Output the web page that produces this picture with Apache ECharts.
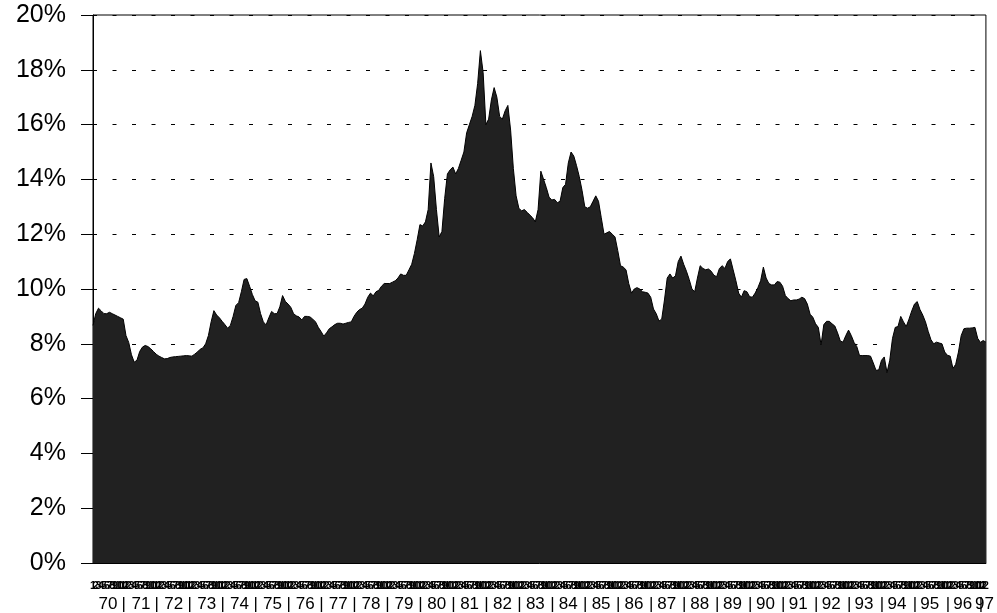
<!DOCTYPE html>
<html><head><meta charset="utf-8">
<script src="https://cdn.jsdelivr.net/npm/echarts@6/dist/echarts.min.js"></script>
<style>html,body{margin:0;padding:0;background:#fff}#c{width:997px;height:613px}</style>
</head><body><div id="c"></div>
<script>
const yearLabels = ['70','71','72','73','74','75','76','77','78','79','80','81','82','83','84','85','86','87','88','89','90','91','92','93','94','95','96','97'];
const monthLabels = ['1','2','3','4','5','6','7','8','9','10','11','12'];
const lastYearMonths = 2;
const yTickLabels = ['0%','2%','4%','6%','8%','10%','12%','14%','16%','18%','20%'];

const rates1970s = [
 8.67, 9.1, 9.3, 9.2, 9.1, 9.1, 9.15, 9.1, 9.05, 9.0, 8.95, 8.9,
 8.3, 8.05, 7.6, 7.33, 7.4, 7.72, 7.88, 7.94, 7.9, 7.82, 7.72, 7.62,
 7.55, 7.5, 7.45, 7.46, 7.5, 7.52, 7.53, 7.54, 7.55, 7.56, 7.57, 7.56,
 7.55, 7.62, 7.7, 7.8, 7.85, 8.0, 8.3, 8.8, 9.21, 9.05, 8.95, 8.82,
 8.7, 8.57, 8.67, 9.0, 9.4, 9.5, 9.9, 10.35, 10.38, 10.1, 9.8, 9.57,
 9.52, 9.1, 8.8, 8.69, 8.95, 9.18, 9.1, 9.1, 9.35, 9.76, 9.55, 9.45,
 9.33, 9.1, 9.02, 8.98, 8.87, 9.0, 9.0, 8.98, 8.9, 8.8, 8.6, 8.45,
 8.28, 8.4, 8.55, 8.62, 8.7, 8.75, 8.75, 8.72, 8.75, 8.78, 8.8, 9.0,
 9.15, 9.25, 9.3, 9.45, 9.7, 9.85, 9.75, 9.9, 9.95, 10.1, 10.2, 10.2,
 10.2, 10.25, 10.3, 10.4, 10.55, 10.5, 10.5, 10.7, 10.9, 11.3, 11.8, 12.35
];
const rates1980s = [
 12.3, 12.45, 12.9, 14.6, 14.1, 12.9, 11.9, 12.1, 13.3, 14.2, 14.35, 14.45,
 14.2, 14.4, 14.7, 15.0, 15.7, 16.0, 16.3, 16.7, 17.5, 18.7, 17.9, 16.0,
 16.2, 16.9, 17.35, 17.0, 16.3, 16.2, 16.5, 16.7, 15.8, 14.4, 13.4, 12.95,
 12.85, 12.9, 12.8, 12.7, 12.6, 12.45, 12.9, 14.3, 14.0, 13.7, 13.35, 13.25,
 13.27, 13.15, 13.2, 13.7, 13.82, 14.6, 15.0, 14.85, 14.5, 14.1, 13.6, 13.0,
 12.95, 13.0, 13.2, 13.4, 13.2, 12.6, 12.0, 12.05, 12.1, 12.0, 11.9, 11.4,
 10.85, 10.8, 10.7, 10.2, 9.85, 10.0, 10.05, 10.0, 9.9, 9.88, 9.85, 9.7,
 9.27, 9.1, 8.83, 8.9, 9.6, 10.4, 10.55, 10.4, 10.48, 11.0, 11.2, 10.9,
 10.65, 10.35, 10.0, 9.9, 10.4, 10.85, 10.75, 10.7, 10.73, 10.65, 10.5, 10.45,
 10.75, 10.85, 10.75, 11.0, 11.1, 10.7, 10.3, 9.85, 9.7, 9.94, 9.9, 9.72
];
const rates1990s = [
 9.7, 9.85, 10.05, 10.3, 10.8, 10.4, 10.2, 10.15, 10.15, 10.27, 10.25, 10.1,
 9.76, 9.65, 9.57, 9.6, 9.6, 9.63, 9.7, 9.65, 9.45, 9.08, 8.97, 8.73,
 8.6, 7.96, 8.7, 8.82, 8.82, 8.73, 8.65, 8.4, 8.1, 8.06, 8.3, 8.5,
 8.3, 8.05, 7.9, 7.57, 7.57, 7.57, 7.57, 7.55, 7.3, 7.03, 7.05, 7.4,
 7.52, 6.95, 7.4, 8.2, 8.6, 8.63, 9.0, 8.8, 8.63, 8.9, 9.2, 9.45,
 9.54, 9.25, 9.05, 8.8, 8.45, 8.15, 8.0, 8.06, 8.03, 8.0, 7.7, 7.58,
 7.55, 7.1, 7.25, 7.7, 8.3, 8.55, 8.57, 8.57, 8.58, 8.6, 8.2, 8.05,
 8.12, 8.06
];

const categories = [];
yearLabels.forEach((y, yi) => {
  const n = yi === yearLabels.length - 1 ? lastYearMonths : 12;
  for (let m = 0; m < n; m++) categories.push(y + '-' + monthLabels[m]);
});
const rates = rates1970s.concat(rates1980s, rates1990s);

const font = '"Liberation Sans", Arial, sans-serif';
const chart = echarts.init(document.getElementById('c'), null, {renderer: 'canvas'});
chart.setOption({
  animation: false,
  grid: {left: 93, right: 10, top: 15, bottom: 48, show: true, borderColor: '#000', borderWidth: 1, backgroundColor: 'transparent'},
  xAxis: [
    {
      type: 'category', data: categories, boundaryGap: false,
      axisLine: {lineStyle: {color: '#000', width: 1}},
      axisTick: {show: false},
      axisLabel: {interval: 0, formatter: v => v.split('-')[1], fontSize: 11, fontWeight: 'bold', color: '#000', margin: 17, fontFamily: font},
      splitLine: {show: false}
    },
    {
      type: 'category', data: categories, boundaryGap: true, position: 'bottom', offset: 32,
      axisLine: {show: false},
      axisTick: {show: false},
      axisLabel: {
        interval: (i, v) => { const p = String(v).split('-'); return p[1] === '6' || (p[0] === '97' && p[1] === '2'); },
        formatter: v => v.split('-')[0], fontSize: 17, color: '#000', margin: 1, fontFamily: font
      },
      splitLine: {show: false}
    },
    {
      type: 'category', data: categories, boundaryGap: false, position: 'bottom', offset: 32,
      axisLine: {show: false},
      axisTick: {show: false},
      axisLabel: {
        interval: (i) => i > 0 && i % 12 === 0,
        formatter: () => '|', fontSize: 17, color: '#000', margin: 1, align: 'right', fontFamily: font
      },
      splitLine: {show: false}
    }
  ],
  yAxis: [
    {
      type: 'value', min: 0, max: 20, interval: 2,
      axisLine: {show: true, lineStyle: {color: '#000', width: 1}},
      axisTick: {show: true, length: 12, lineStyle: {color: '#000'}},
      axisLabel: {formatter: v => yTickLabels[Math.round(v / 2)], fontSize: 25, color: '#000', margin: 27, fontFamily: font},
      splitLine: {show: true, lineStyle: {color: '#000', type: [4, 15.5], width: 1}}
    },
    {
      type: 'value', min: 0, max: 20, interval: 2, position: 'left',
      axisLine: {show: false},
      axisTick: {show: true, inside: true, length: 4, lineStyle: {color: '#000'}},
      axisLabel: {show: false},
      splitLine: {show: false}
    }
  ],
  series: [{
    type: 'line', data: rates, xAxisIndex: 0, yAxisIndex: 0,
    symbol: 'none', showSymbol: false,
    lineStyle: {color: '#000', width: 1},
    areaStyle: {color: '#212121', opacity: 1}
  }]
});
</script>
</body></html>
